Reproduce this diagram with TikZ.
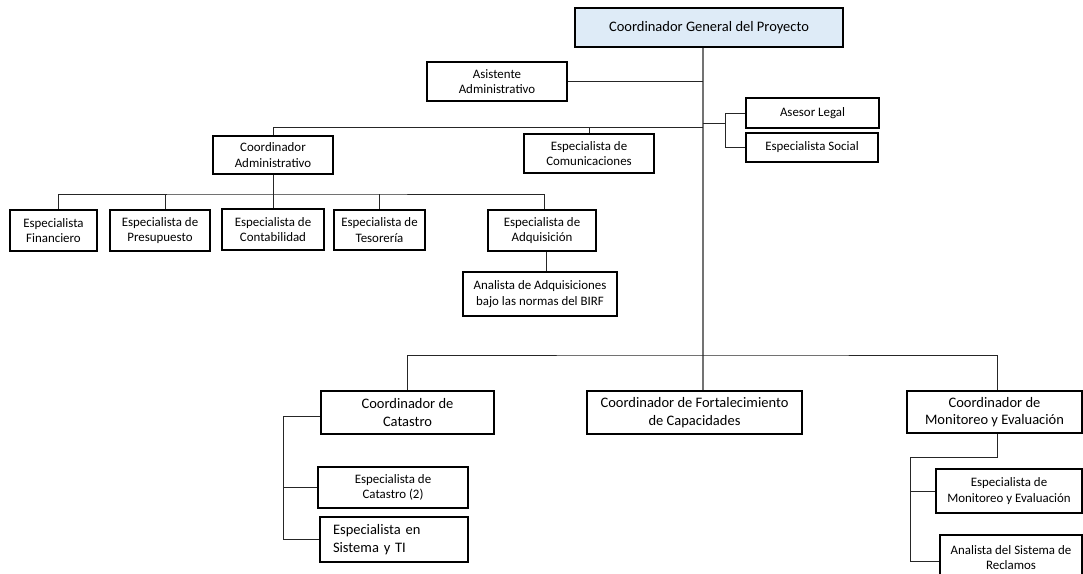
\documentclass[tikz,border=0pt]{standalone}
\usepackage{fontspec}
\setmainfont{Carlito}
\definecolor{titleblue}{RGB}{222,235,247}

\begin{document}
\begin{tikzpicture}[x=1pt,y=-1pt,
	smallbox/.style={shape=rectangle,draw,line width=1.8pt,inner sep=0pt,align=center,font=\fontsize{12.9}{15.5}\selectfont},
	bigbox/.style={smallbox,font=\fontsize{14.5}{17.5}\selectfont},
	link/.style={draw=black!85,line width=1pt},
	trunk/.style={draw=black!55,line width=1.6pt}]
					\useasboundingbox (0,0) rectangle (1083,573);
					\clip (0,0) rectangle (1083,573);
					\node (general) [bigbox,fill=titleblue,minimum width=268pt,minimum height=39pt] at (709,27.5) {Coordinador General del Proyecto};
					\node (asistente) [smallbox,minimum width=140pt,minimum height=39pt] at (497,81.5) {Asistente\\Administrativo};
					\node (asesor) [smallbox,minimum width=133pt,minimum height=30pt] at (812.5,113) {Asesor Legal};
					\node (social) [smallbox,minimum width=132pt,minimum height=29pt] at (812,147.5) {Especialista Social};
					\node (coordadm) [smallbox,minimum width=120pt,minimum height=38pt] at (273,155) {Coordinador\\Administrativo};
					\node (comunic) [smallbox,minimum width=130pt,minimum height=39pt] at (589,153.5) {Especialista de\\Comunicaciones};

					\node (financiero) [smallbox,minimum width=87pt,minimum height=41pt] at (53.5,230.5) {Especialista\\Financiero};
					\node (presupuesto) [smallbox,minimum width=100pt,minimum height=41pt] at (160,230.5) {Especialista de\\Presupuesto};
					\node (contabilidad) [smallbox,minimum width=102pt,minimum height=41pt] at (273,229.5) {Especialista de\\Contabilidad};
					\node (tesoreria) [smallbox,minimum width=91pt,minimum height=40pt] at (379.5,230) {Especialista de\\Tesorería};
					\node (adquisicion) [smallbox,minimum width=108pt,minimum height=41pt] at (542,230.5) {Especialista de\\Adquisición};
					\node (analista) [smallbox,minimum width=154pt,minimum height=44pt] at (540,294) {Analista de Adquisiciones\\bajo las normas del BIRF};

					\node (catastro) [bigbox,minimum width=173pt,minimum height=43pt] at (407.5,412.5) {Coordinador de\\Catastro};
					\node (fortalecimiento) [bigbox,minimum width=215pt,minimum height=43pt] at (694.5,412.5) {Coordinador de Fortalecimiento\\de Capacidades};
					\node (monitoreo) [bigbox,minimum width=175pt,minimum height=42pt] at (994.5,412) {Coordinador de\\Monitoreo y Evaluación};
					\node (espcatastro) [smallbox,minimum width=150pt,minimum height=41pt] at (393,487.5) {Especialista de\\Catastro (2)};
					\node (sistema) [bigbox,align=left,inner xsep=13pt,text width=122pt,minimum height=45pt] at (394,539.5) {Especialista en\\Sistema y TI};
					\node (espmonitoreo) [smallbox,minimum width=146pt,minimum height=44pt] at (1009,491) {Especialista de\\Monitoreo y Evaluación};
					\node (reclamos) [smallbox,minimum width=142pt,minimum height=45pt] at (1011,557.5) {Analista del Sistema de\\Reclamos};

					\coordinate (axis) at (703,0);
					\coordinate (junction) at (725,123);
					\coordinate (upperbus) at (703,127);
					\coordinate (adminbus) at (273,194);
					\coordinate (lowerbus) at (703,355);
					\coordinate (leftrail) at (283,0);
					\coordinate (rightrail) at (910,457);

					\path[trunk] (axis |- general.south) -- (axis |- fortalecimiento.north);
					\path[link] (asistente.east) -- (asistente.east -| axis);
					\path[link] (axis |- junction) -- (junction);
					\path[link] (asesor.west) -| (junction) |- (social.west);
					\path[link] (coordadm.north) |- (upperbus);
					\path[link] (comunic.north) -- (comunic.north |- upperbus);
					\path[link] (coordadm.south) -- (contabilidad.north);
					\path[link] ([xshift=5pt]financiero.north) |- (adminbus) -| ([xshift=2pt]adquisicion.north);
					\path[link] ([xshift=5pt]presupuesto.north) -- ([xshift=5pt]presupuesto.north |- adminbus);
					\path[link] (tesoreria.north) -- (tesoreria.north |- adminbus);
					\path[link] ([xshift=4pt]adquisicion.south) -- ([xshift=4pt]adquisicion.south |- analista.north);
					\path[link] (catastro.north) |- (lowerbus) -| ([xshift=3pt]monitoreo.north);
					\path[link] ([yshift=-4pt]catastro.west) -| (leftrail |- sistema.west) -- (sistema.west);
					\path[link] (espcatastro.west) -- (espcatastro.west -| leftrail);
					\path[link] ([xshift=3pt]monitoreo.south) |- (rightrail) |- ([yshift=-4pt]reclamos.west);
					\path[link] (espmonitoreo.west) -- (espmonitoreo.west -| rightrail);
				\end{tikzpicture}
\end{document}
